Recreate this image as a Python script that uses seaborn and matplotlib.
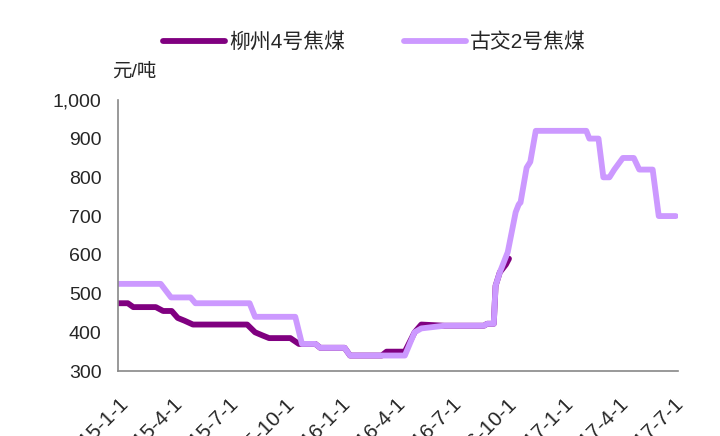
import pandas as pd
import numpy as np
import matplotlib
matplotlib.use("Agg")
import matplotlib.pyplot as plt
import seaborn as sns

# series vertices (date, 元/吨)
liuzhou_dates = ["2015-01-01", "2015-01-17", "2015-01-26", "2015-03-04", "2015-03-16",
                 "2015-03-30", "2015-04-09", "2015-04-20", "2015-05-04", "2015-08-01",
                 "2015-08-14", "2015-08-26", "2015-09-06", "2015-10-11", "2015-10-25",
                 "2015-11-21", "2015-11-29", "2016-01-08", "2016-01-17", "2016-03-09",
                 "2016-03-17", "2016-04-16", "2016-05-02", "2016-05-13", "2016-06-20",
                 "2016-08-24", "2016-08-29", "2016-09-09", "2016-09-12", "2016-09-19",
                 "2016-09-29", "2016-10-04"]
liuzhou_vals = [475, 475, 465, 465, 455,
                455, 437, 430, 420, 420,
                400, 392, 385, 385, 370,
                370, 360, 360, 340, 340,
                350, 350, 400, 420, 417,
                417, 422, 422, 520, 555,
                575, 590]

gujiao_dates = ["2015-01-01", "2015-03-12", "2015-03-29", "2015-04-30", "2015-05-08",
                "2015-08-05", "2015-08-14", "2015-10-19", "2015-10-30", "2015-11-21",
                "2015-11-29", "2016-01-08", "2016-01-17", "2016-04-16", "2016-05-02",
                "2016-05-13", "2016-06-20", "2016-08-24", "2016-08-29", "2016-09-09",
                "2016-09-12", "2016-09-19", "2016-09-29", "2016-10-02", "2016-10-15",
                "2016-10-20", "2016-10-23", "2016-11-02", "2016-11-08", "2016-11-17",
                "2017-02-08", "2017-02-13", "2017-02-28", "2017-03-08", "2017-03-18",
                "2017-03-26", "2017-04-09", "2017-04-27", "2017-05-06", "2017-05-28",
                "2017-06-07", "2017-07-05"]
gujiao_vals = [525, 525, 490, 490, 475,
               475, 440, 440, 370, 370,
               360, 360, 340, 340, 400,
               410, 417, 417, 422, 422,
               520, 555, 595, 607, 710,
               730, 735, 825, 840, 920,
               920, 900, 900, 800, 800,
               820, 850, 850, 820, 820,
               700, 700]

series_names = ["柳州4号焦煤", "古交2号焦煤"]
tick_dates = ["2015-01-01", "2015-04-01", "2015-07-01", "2015-10-01", "2016-01-01",
              "2016-04-01", "2016-07-01", "2016-10-01", "2017-01-01", "2017-04-01",
              "2017-07-01"]
tick_labels = ["2015-1-1", "2015-4-1", "2015-7-1", "2015-10-1", "2016-1-1",
               "2016-4-1", "2016-7-1", "2016-10-1", "2017-1-1", "2017-4-1",
               "2017-7-1"]
y_ticks = [300, 400, 500, 600, 700, 800, 900, 1000]

df = pd.concat([
    pd.DataFrame({"date": pd.to_datetime(liuzhou_dates), "price": liuzhou_vals,
                  "series": series_names[0]}),
    pd.DataFrame({"date": pd.to_datetime(gujiao_dates), "price": gujiao_vals,
                  "series": series_names[1]}),
])

sns.set_style("white")
plt.rcParams["font.family"] = ["Liberation Sans", "Noto Sans CJK SC", "DejaVu Sans"]

fig = plt.figure(figsize=(7.2, 4.36), dpi=100)
ax = fig.add_axes([0.164, 0.149, 0.778, 0.622])

palette = {series_names[0]: "#800080", series_names[1]: "#CC99FF"}
sns.lineplot(data=df, x="date", y="price", hue="series", palette=palette,
             linewidth=4.2, ax=ax, legend=True)
for ln in ax.get_lines():
    ln.set_solid_joinstyle("round")

ax.set_xlim(pd.Timestamp("2015-01-01"), pd.Timestamp("2017-07-09"))
ax.set_ylim(300, 1000)
ax.set_yticks(y_ticks)
ax.set_yticklabels([f"{v:,}" for v in y_ticks], fontsize=14)
ax.set_xticks(pd.to_datetime(tick_dates))
ax.set_xticklabels(tick_labels, fontsize=15, rotation=45, ha="right",
                   rotation_mode="anchor")
ax.set_xlabel("")
ax.set_ylabel("")

for s in ["top", "right"]:
    ax.spines[s].set_visible(False)
for s in ["left", "bottom"]:
    ax.spines[s].set_color("#888888")
    ax.spines[s].set_linewidth(1.2)
ax.tick_params(axis="both", direction="in", length=4, width=1, color="#888888")
ax.tick_params(axis="y", pad=12)
ax.tick_params(axis="x", pad=17)

ax.text(-0.01, 1.07, "元/吨", transform=ax.transAxes, fontsize=14, ha="left",
        va="bottom")

leg = ax.legend(loc="center", bbox_to_anchor=(0.52, 0.903),
                bbox_transform=fig.transFigure, ncol=2, frameon=False,
                fontsize=15, handlelength=3.0, handletextpad=0.2,
                columnspacing=2.8)
for h in leg.get_lines():
    h.set_linewidth(4.2)

fig.savefig("out.png", dpi=100)
